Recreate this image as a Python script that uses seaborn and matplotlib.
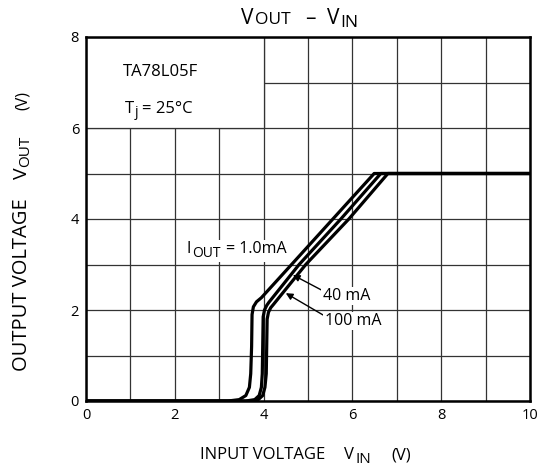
import matplotlib
matplotlib.use("Agg")
import matplotlib.pyplot as plt
import seaborn as sns
import pandas as pd
from matplotlib.patches import Rectangle

# ---- data ----
vin_1mA = [0, 3.20, 3.45, 3.60, 3.68, 3.71, 3.73, 3.74, 3.77, 3.84, 3.95, 4.63, 5.56, 6.49, 10]
vout_1mA = [0, 0, 0.03, 0.12, 0.30, 0.60, 1.20, 1.90, 2.07, 2.18, 2.27, 3.0, 4.0, 5.0, 5.0]
vin_40mA = [0, 3.60, 3.80, 3.90, 3.95, 3.97, 3.98, 3.99, 4.02, 4.07, 4.12, 4.80, 5.74, 6.64, 10]
vout_40mA = [0, 0, 0.03, 0.12, 0.30, 0.60, 1.20, 1.85, 2.00, 2.10, 2.17, 3.0, 4.0, 5.0, 5.0]
vin_100mA = [0, 3.70, 3.88, 3.98, 4.03, 4.06, 4.07, 4.08, 4.11, 4.16, 4.22, 4.95, 5.92, 6.80, 10]
vout_100mA = [0, 0, 0.03, 0.12, 0.30, 0.60, 1.20, 1.80, 1.95, 2.05, 2.12, 3.0, 4.0, 5.0, 5.0]
x_ticks = [0, 2, 4, 6, 8, 10]
y_ticks = [0, 2, 4, 6, 8]

df = pd.concat([
    pd.DataFrame({"vin": vin_1mA, "vout": vout_1mA, "iout": "1.0mA"}),
    pd.DataFrame({"vin": vin_40mA, "vout": vout_40mA, "iout": "40mA"}),
    pd.DataFrame({"vin": vin_100mA, "vout": vout_100mA, "iout": "100mA"}),
], ignore_index=True)

sns.set_theme(style="white")
plt.rcParams["font.family"] = ["Open Sans", "DejaVu Sans"]

W, H = 538, 468
fig = plt.figure(figsize=(W / 100, H / 100), dpi=100)
ax = fig.add_axes([86 / W, 1 - 401 / H, 444 / W, 364 / H])

sns.lineplot(data=df, x="vin", y="vout", hue="iout", estimator=None, sort=False,
             palette=["black"] * 3, linewidth=2.3, legend=False, ax=ax, zorder=3)

ax.set_xlim(0, 10)
ax.set_ylim(0, 8)
ax.set_xticks(x_ticks)
ax.set_yticks(y_ticks)
ax.set_xticks(range(0, 11), minor=True)
ax.set_yticks(range(0, 9), minor=True)
ax.grid(which="both", color="#333333", linewidth=0.9)
ax.tick_params(which="both", length=0, labelsize=10.5, colors="black", pad=5)
for s in ax.spines.values():
    s.set_color("black")
    s.set_linewidth(1.8)
ax.set_xlabel("")
ax.set_ylabel("")

# blank box for the device name
ax.add_patch(Rectangle((0, 6), 4, 2, facecolor="white", edgecolor="#333333",
                       linewidth=0.9, zorder=1))

renderer = fig.canvas.get_renderer()


def chain(x, y, pieces, rot=False, bg=False):
    """Place text pieces one after another.
    x, y: pixel position (from top-left) of the start of the baseline.
    pieces: (text, fontsize, baseline drop in px, gap before in px)."""
    pos = 0.0
    texts = []
    for s, size, dy, gap in pieces:
        pos += gap
        kw = dict(fontsize=size, ha="left", va="baseline", color="black", zorder=5)
        if rot:
            kw.update(rotation=90, rotation_mode="anchor")
            t = fig.text((x + dy) / W, 1 - (y - pos) / H, s, **kw)
            pos += t.get_window_extent(renderer).height
        else:
            t = fig.text((x + pos) / W, 1 - (y + dy) / H, s, **kw)
            pos += t.get_window_extent(renderer).width
        texts.append(t)
    if bg:
        ext = [t.get_window_extent(renderer) for t in texts]
        x0 = min(e.x0 for e in ext) - 2
        x1 = max(e.x1 for e in ext) + 2
        y0 = min(e.y0 for e in ext) - 1
        y1 = max(e.y1 for e in ext) + 1
        fig.patches.append(Rectangle((x0 / W, y0 / H), (x1 - x0) / W, (y1 - y0) / H,
                                     transform=fig.transFigure, facecolor="white",
                                     edgecolor="none", zorder=4))
    return texts


# title  V_OUT - V_IN
chain(241, 24, [("V", 15, 0, 0), ("OUT", 12.5, 0, 1), ("–", 15, 0, 15),
                ("V", 15, 0, 11), ("IN", 12.5, 3, 1)])

# x label
chain(200, 459, [("INPUT VOLTAGE", 12, 0, 0), ("V", 12, 0, 19), ("IN", 11, 4, 1),
                 ("(V)", 12, 0, 20)])

# y label (rotated)
chain(27, 371, [("OUTPUT VOLTAGE", 14.5, 0, 0), ("V", 14, 0, 19), ("OUT", 11, 2, 1),
                ("(V)", 11.5, 0, 25)], rot=True)

# device box text
chain(123, 76, [("TA78L05F", 12, 0, 0)])
chain(125, 113, [("T", 12, 0, 0), ("j", 10, 3, 0.5), ("= 25°C", 12, 0, 4)])

# current labels
chain(187, 253, [("I", 11.5, 0, 0), ("OUT", 10, 4, 0.5), ("= 1.0mA", 11.5, 0, 6)], bg=True)
chain(323, 300, [("40 mA", 11.5, 0, 0)], bg=True)
chain(325, 325, [("100 mA", 11.5, 0, 0)], bg=True)

arrow = dict(arrowstyle="-|>", color="black", lw=1.0, mutation_scale=10, shrinkA=0, shrinkB=0)
ax.annotate("", xy=(4.66, 2.77), xytext=(5.34, 2.42), arrowprops=arrow, zorder=4)
ax.annotate("", xy=(4.50, 2.37), xytext=(5.34, 1.89), arrowprops=arrow, zorder=4)

fig.savefig("out.png", dpi=100, facecolor="white")
